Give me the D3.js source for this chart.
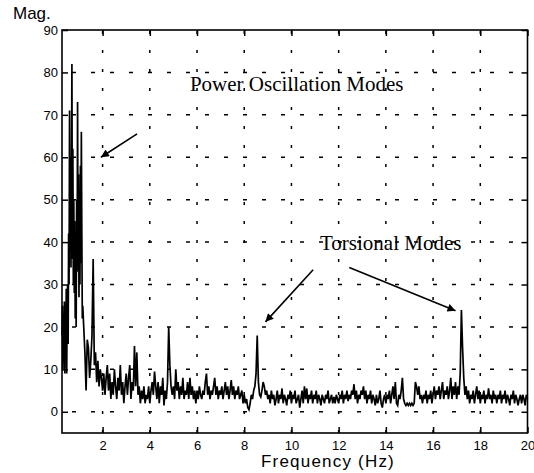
<!DOCTYPE html>
<html><head><meta charset="utf-8">
<script src="https://cdn.jsdelivr.net/npm/d3@7"></script>
<style>body{margin:0;background:#fff}svg{display:block}</style>
</head><body>
<svg id="c" width="534" height="473"></svg>
<script>
// ---- data ----
// low-frequency band, finer sample grid (0.28 .. 1.16 Hz)
const lowStart = 0.28, lowStep = 0.02;
const lowMagnitude = [
 18,25,10,22,12,26,9,20,14,29,9,27,30,16,42,30,71,38,60,34,55,82,36,62,30,50,28,45,22,40,
 20,50,33,73,35,56,27,52,30,58,35,66,42,22,25
];
// main band (1.20 .. 20.00 Hz)
const mainStart = 1.20, mainStep = 0.05;
const magnitude = [
 20,14,5,17,15,8,12,18,36,11,14,7,12,6,10,8,
 5,9,4,8,11,5,9,3,7,4,10,6,3,8,5,11,4,7,2,6,
 9,4,8,11,3,7,5,15.5,6,14,4,6,2,5,3,6,2,4,3,6,
 2,5,7,4,9.5,6,3,7,2,6,4,8,1.5,5,3,7,20,11,6,4,
 6,3,10,5,7,3,6,4,8,3,5,4,7,3,8,4,6,3,5,2,
 5,3,6,4,3,5,4,7,9,4,6,3,5,4,6,8,4,6,3,5,
 4,6,3,5,7,4,6,3,5,7.5,4,6,3,5,4,6,3,4,5,2,
 4,2,3,1,0.5,2,4,3,5,6,9,18,7,4,3.5,5,7,6,4,5,
 3,4,2,5,3,4,1.5,3,5,2,4,3,5.5,2,4,3,1.5,4,3,5,
 2,4,3,5,2,3,4,1,3,5,2,6,3,5.5,2,4,3,5,2,4,
 3,5,2,4,3,1.5,4,3,2,4,3,5,2,3,4,2,3.5,2,4,3,
 2,4,3,5,2,4,3,5,2.5,4,3,5,4,6.5,3,5,2,4,3,5,
 4,6,3,5,2,4,3,5,2,4,3,1.5,4,2,3,5,2,1,3,4,
 2,4,3,5,2,4,6,3,7,2,1.5,4,3,5,8,3,2,1.5,2,1.5,
 2,1.5,2,1.5,2,7,6,4,6,3,4,2,4,3,5,2,4,3,5,2,
 4,6,3,5,4,6,3,5,7,3,5,4,6,3,5,8,3,6,4,7,
 3,6,4,9,24,15,8,4,6,3,5,2,4,3,5,2,4,6,3,5,
 2,4,3,5,2,4,3,5.5,3,4,2,5,3,4,2,4,3,5,2,4,
 3,5,2,4,3,1.5,4,3,5,2,4,3,1.5,3,4,2,4,3,1.5,4,3
];
const xTicks = [2,4,6,8,10,12,14,16,18,20];
const yTicks = [0,10,20,30,40,50,60,70,80,90];
const xDomain = [0.28, 20];
const yDomain = [-5, 90];
const annotations = [
  {text:"Power Oscillation Modes", fx:5.70, fy:75.6},
  {text:"Torsional Modes", fx:11.21, fy:38.1}
];
const arrows = [ // from (f,mag) to (f,mag)
  {x1:3.46, y1:65.5, x2:1.93, y2:60},
  {x1:10.92, y1:33.5, x2:8.9, y2:21.2},
  {x1:12.45, y1:34, x2:16.95, y2:23.8}
];

const data = lowMagnitude.map((m,i)=>({f: lowStart + i*lowStep, m}))
  .concat(magnitude.map((m,i)=>({f: mainStart + i*mainStep, m})));

// ---- layout ----
const svg = d3.select("#c");
const L=62, R=527.5, T=30, B=433;
const x = d3.scaleLinear().domain(xDomain).range([L,R]);
const y = d3.scaleLinear().domain(yDomain).range([B,T]);
const font = "'Liberation Sans', Arial, sans-serif";

// grid
const g = svg.append("g");
g.selectAll(".vg").data(xTicks.filter(d=>d<20)).join("line")
  .attr("x1",d=>x(d)).attr("x2",d=>x(d)).attr("y1",B).attr("y2",T)
  .attr("stroke","#000").attr("stroke-width",1.5).attr("stroke-dasharray","3,16");
g.selectAll(".hg").data(yTicks.filter(d=>d<90)).join("line")
  .attr("x1",L).attr("x2",R).attr("y1",d=>y(d)).attr("y2",d=>y(d))
  .attr("stroke","#000").attr("stroke-width",1.5).attr("stroke-dasharray","4,15")
  .attr("stroke-dashoffset",-10);

// data line
svg.append("path").datum(data)
  .attr("d", d3.line().x(d=>x(d.f)).y(d=>y(d.m)))
  .attr("fill","none").attr("stroke","#000").attr("stroke-width",1.7)
  .attr("stroke-linejoin","miter");

// axes with inward ticks
const ax = d3.axisBottom(x).tickValues(xTicks).tickSize(-6).tickPadding(8).tickFormat(d3.format("d"));
const ay = d3.axisLeft(y).tickValues(yTicks).tickSize(-6).tickPadding(4).tickFormat(d3.format("d"));
const gx = svg.append("g").attr("transform",`translate(0,${B})`).call(ax);
const gy = svg.append("g").attr("transform",`translate(${L},0)`).call(ay);
const gxt = svg.append("g").attr("transform",`translate(0,${T})`).call(d3.axisTop(x).tickValues(xTicks).tickSize(-6).tickFormat(""));
const gyr = svg.append("g").attr("transform",`translate(${R},0)`).call(d3.axisRight(y).tickValues(yTicks).tickSize(-6).tickFormat(""));
[gx,gy,gxt,gyr].forEach(a=>{
  a.select(".domain").remove();
  a.selectAll(".tick line").attr("stroke","#000").attr("stroke-width",1.5);
  a.selectAll("text").attr("fill","#000").style("font-family",font).style("font-size","13px");
});
svg.append("rect").attr("x",L).attr("y",T).attr("width",R-L).attr("height",B-T)
  .attr("fill","none").attr("stroke","#000").attr("stroke-width",1.6);

// titles
svg.append("text").attr("x",13).attr("y",19).text("Mag.")
  .style("font-family",font).style("font-size","17px");
svg.append("text").attr("x",328).attr("y",467).attr("text-anchor","middle").text("Frequency (Hz)")
  .style("font-family",font).style("font-size","17px").style("letter-spacing","1.2px");

// annotations
svg.selectAll(".ann").data(annotations).join("text")
  .attr("x",d=>x(d.fx)).attr("y",d=>y(d.fy)).text(d=>d.text)
  .style("font-family","'Liberation Serif','Times New Roman',serif").style("font-size","21px");

svg.append("defs").append("marker").attr("id","ah").attr("viewBox","0 0 10 10")
  .attr("refX",10).attr("refY",5).attr("markerWidth",12).attr("markerHeight",8)
  .attr("markerUnits","userSpaceOnUse").attr("orient","auto")
  .append("path").attr("d","M0,0L10,5L0,10Z").attr("fill","#000");
svg.selectAll(".arr").data(arrows).join("line")
  .attr("x1",d=>x(d.x1)).attr("y1",d=>y(d.y1)).attr("x2",d=>x(d.x2)).attr("y2",d=>y(d.y2))
  .attr("stroke","#000").attr("stroke-width",1.6).attr("marker-end","url(#ah)");
</script>
</body></html>
